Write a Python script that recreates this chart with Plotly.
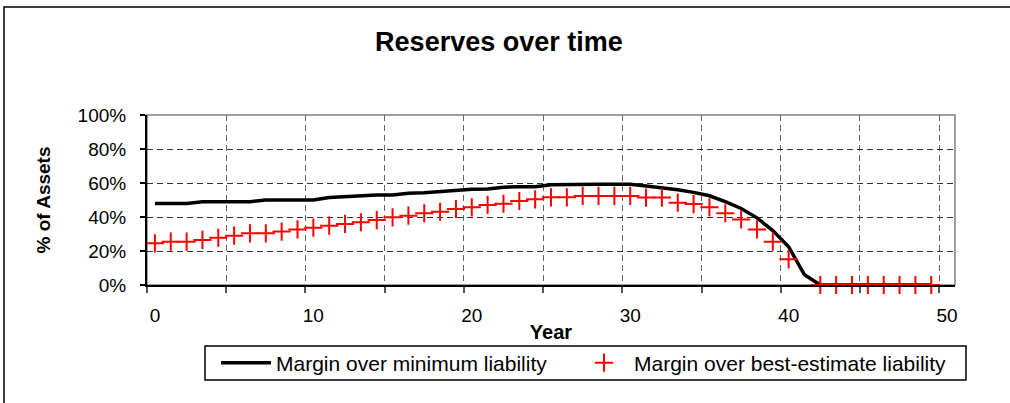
import plotly.graph_objects as go

# Projection years (category 50 is kept as an empty slot on the axis)
years = list(range(50))

# Margin over minimum liability, as a share of assets
min_margin = [
    0.48, 0.48, 0.48, 0.49, 0.49, 0.49, 0.49, 0.50, 0.50, 0.50,
    0.50, 0.515, 0.52, 0.53, 0.53, 0.53, 0.54, 0.543, 0.55, 0.553,
    0.563, 0.565, 0.575, 0.578, 0.578, 0.59, 0.592, 0.592, 0.592, 0.592,
    0.592, 0.583, 0.573, 0.56, 0.545, 0.525, 0.49, 0.45, 0.395, 0.32,
    0.225, 0.06, 0.0, 0.0, 0.0, 0.0, 0.0, 0.0, 0.0, 0.0,
]

# Margin over best-estimate liability (year 41 has no value)
best_margin = [
    0.245, 0.255, 0.255, 0.265, 0.278, 0.29, 0.304, 0.304, 0.314, 0.327,
    0.337, 0.349, 0.359, 0.369, 0.382, 0.398, 0.408, 0.422, 0.431, 0.447,
    0.457, 0.471, 0.478, 0.494, 0.504, 0.516, 0.516, 0.524, 0.524, 0.524,
    0.524, 0.514, 0.514, 0.484, 0.476, 0.457, 0.422, 0.386, 0.327, 0.255,
    0.151, None, 0.0, 0.0, 0.0, 0.0, 0.0, 0.0, 0.0, 0.0,
]

x_tick_values = [0, 10, 20, 30, 40, 50]
x_tick_labels = ["0", "10", "20", "30", "40", "50"]
y_tick_values = [0, 0.2, 0.4, 0.6, 0.8, 1.0]

FONT = "Liberation Sans, Arial, sans-serif"

fig = go.Figure()

fig.add_trace(go.Scatter(
    x=years, y=min_margin,
    mode="lines",
    name="Margin over minimum liability",
    line=dict(color="black", width=3.5),
    legendwidth=293,
    cliponaxis=False,
))

fig.add_trace(go.Scatter(
    x=years, y=best_margin,
    mode="markers",
    name="Margin over best-estimate liability",
    marker=dict(symbol="cross-thin", size=13,
                line=dict(color="#ff0000", width=2)),
    legendwidth=340,
    cliponaxis=False,
))

W, H = 1010, 403
L, R, T, B = 147, 55, 115, 118
pw, ph = W - L - R, H - T - B


def px_x(p):
    return (p - L) / pw


def px_y(p):
    return (H - B - p) / ph


# Plot-area frame (grey)
fig.add_shape(type="rect", xref="paper", yref="paper", x0=0, y0=0, x1=1, y1=1,
              line=dict(color="#808080", width=1.5), layer="below")

# Outer chart frame
fig.add_shape(type="rect", xref="paper", yref="paper",
              x0=px_x(4), x1=px_x(1016), y0=px_y(412), y1=px_y(7),
              line=dict(color="black", width=1.5), layer="below")

# Legend box
fig.add_shape(type="rect", xref="paper", yref="paper",
              x0=px_x(205), x1=px_x(966), y0=px_y(380), y1=px_y(346),
              line=dict(color="black", width=1.5), fillcolor="white",
              layer="below")

fig.update_layout(
    width=W, height=H,
    margin=dict(l=L, r=R, t=T, b=B, pad=0),
    paper_bgcolor="white",
    plot_bgcolor="white",
    font=dict(family=FONT, size=19, color="black"),
    title=dict(
        text="<b>Reserves over time</b>",
        x=0.494, xref="container", xanchor="center",
        y=1 - 42 / H, yref="container", yanchor="middle",
        font=dict(family=FONT, size=27, color="black"),
    ),
    showlegend=True,
    legend=dict(
        orientation="h",
        x=px_x(216), xanchor="left",
        y=px_y(363), yanchor="middle",
        borderwidth=0,
        bgcolor="rgba(0,0,0,0)",
        font=dict(family=FONT, size=21, color="black"),
        itemwidth=50,
        tracegroupgap=0,
    ),
    xaxis=dict(
        range=[-0.5, 50.5],
        tickmode="array", tickvals=x_tick_values, ticktext=x_tick_labels,
        ticks="", showgrid=False, zeroline=False,
        showline=True, linecolor="black", linewidth=1.5,
        ticklabelstandoff=12,
        minor=dict(tickmode="linear", tick0=-0.5, dtick=5,
                   ticks="outside", ticklen=6, tickcolor="#555", tickwidth=1.5,
                   showgrid=True, gridcolor="#666", gridwidth=1,
                   griddash="6px,4px"),
        title=dict(text="<b>Year</b>", standoff=0,
                   font=dict(family=FONT, size=20)),
    ),
    yaxis=dict(
        range=[0, 1],
        tickmode="array", tickvals=y_tick_values, tickformat=".0%",
        ticks="outside", ticklen=5, tickcolor="black", tickwidth=1.5,
        showgrid=True, gridcolor="#333", gridwidth=1, griddash="6px,4px",
        zeroline=False,
        showline=True, linecolor="black", linewidth=2,
        ticklabelstandoff=10,
        title=dict(text="<b>% of Assets</b>", standoff=22,
                   font=dict(family=FONT, size=19)),
    ),
)

fig.write_html("out.html")
